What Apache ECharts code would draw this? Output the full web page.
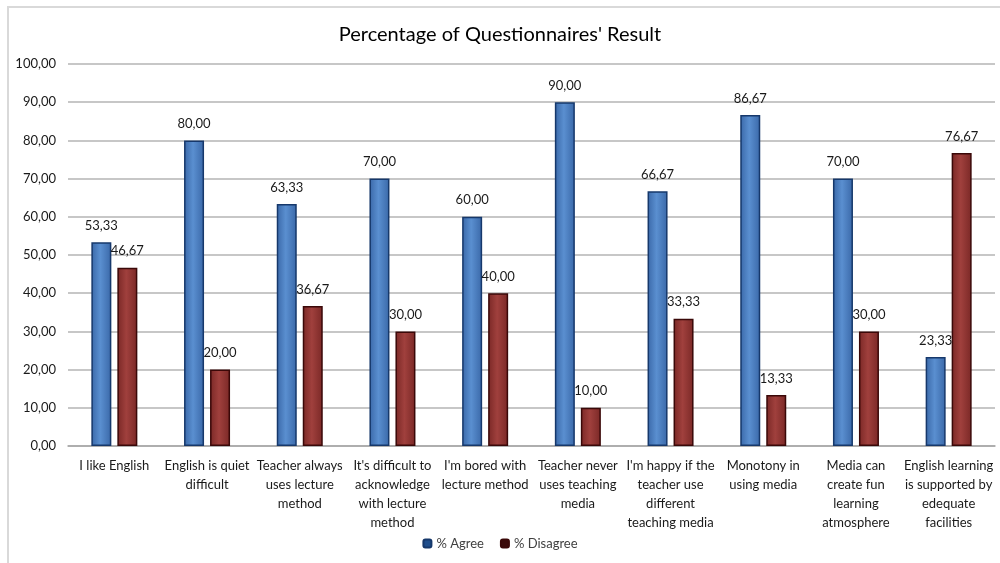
<!DOCTYPE html>
<html>
<head>
<meta charset="utf-8">
<script src="https://cdn.jsdelivr.net/npm/echarts@6/dist/echarts.min.js"></script>
<style>
  html, body { margin: 0; padding: 0; background: #fff; }
  #main { width: 1000px; height: 563px; }
  #frame { position: absolute; left: 7px; top: 6px; width: 1000px; height: 600px; border: 2px solid #d9d9d9; box-sizing: border-box; pointer-events: none; }
</style>
</head>
<body>
<div id="main"></div>
<div id="frame"></div>
<script>
const categories = [
  'I like English',
  'English is quiet\ndifficult',
  'Teacher always\nuses lecture\nmethod',
  "It's difficult to\nacknowledge\nwith lecture\nmethod",
  "I'm bored with\nlecture method",
  'Teacher never\nuses teaching\nmedia',
  "I'm happy if the\nteacher use\ndifferent\nteaching media",
  'Monotony in\nusing media',
  'Media can\ncreate fun\nlearning\natmosphere',
  'English learning\nis supported by\nedequate\nfacilities'
]
const agree = [53.33, 80.00, 63.33, 70.00, 60.00, 90.00, 66.67, 86.67, 70.00, 23.33]
const disagree = [46.67, 20.00, 36.67, 30.00, 40.00, 10.00, 33.33, 13.33, 30.00, 76.67]

const font = 'Lato, "Open Sans", sans-serif'
const fmt = v => v.toFixed(2).replace('.', ',')

function grad(edge, mid) {
  return new echarts.graphic.LinearGradient(0, 0, 1, 0, [
    { offset: 0, color: edge },
    { offset: 0.45, color: mid },
    { offset: 1, color: edge }
  ])
}

const myChart = echarts.init(document.getElementById('main'))

myChart.setOption({
  animation: false,
  textStyle: { fontFamily: font },
  title: {
    text: "Percentage of Questionnaires' Result",
    left: 'center',
    top: 20,
    textStyle: { fontFamily: font, fontSize: 20, fontWeight: 'normal', color: '#000' }
  },
  legend: {
    bottom: 8,
    left: 'center',
    itemWidth: 8,
    itemHeight: 8,
    itemGap: 16,
    textStyle: { fontFamily: font, fontSize: 13, color: '#404040' },
    data: [
      { name: '% Agree', itemStyle: { color: '#1f4e8c' } },
      { name: '% Disagree', itemStyle: { color: '#3a0a0a' } }
    ]
  },
  grid: { left: 68, right: 5, top: 64, bottom: 117, containLabel: false },
  xAxis: {
    type: 'category',
    data: categories,
    axisTick: { show: false },
    axisLine: { lineStyle: { color: '#a6a6a6', width: 1.5 } },
    axisLabel: {
      interval: 0,
      fontFamily: font,
      fontSize: 13,
      color: '#1a1a1a',
      lineHeight: 19,
      margin: 10
    }
  },
  yAxis: {
    type: 'value',
    min: 0,
    max: 100,
    interval: 10,
    axisLine: { show: false },
    axisTick: { show: false },
    axisLabel: {
      fontFamily: font,
      fontSize: 13,
      color: '#1a1a1a',
      margin: 12,
      formatter: v => fmt(v)
    },
    splitLine: { lineStyle: { color: '#b4b4b4', width: 1.5 } }
  },
  series: [
    {
      name: '% Agree',
      type: 'bar',
      data: agree,
      barWidth: 20,
      barGap: '30%',
      itemStyle: {
        color: grad('#3a68a8', '#5a8fd0'),
        borderColor: '#16386b',
        borderWidth: 1.5
      },
      label: {
        show: true,
        position: 'top',
        distance: 10,
        fontFamily: font,
        fontSize: 13,
        color: '#1a1a1a',
        formatter: p => fmt(p.value)
      }
    },
    {
      name: '% Disagree',
      type: 'bar',
      data: disagree,
      barWidth: 20,
      itemStyle: {
        color: grad('#7a2826', '#a0403d'),
        borderColor: '#3a0808',
        borderWidth: 1.5
      },
      label: {
        show: true,
        position: 'top',
        distance: 10,
        fontFamily: font,
        fontSize: 13,
        color: '#1a1a1a',
        formatter: p => fmt(p.value)
      }
    }
  ]
})
</script>
</body>
</html>
